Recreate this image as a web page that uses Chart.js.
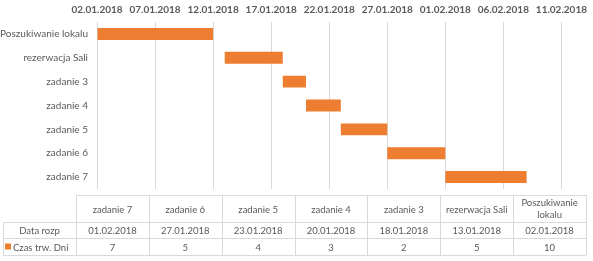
<!DOCTYPE html>
<html lang="pl">
  <head>
    <meta charset="UTF-8" />
    <script src="https://cdn.jsdelivr.net/npm/chart.js@4.4.1/dist/chart.umd.min.js"></script>
    <title>Harmonogram</title>
    <style>
      html, body { margin: 0; padding: 0; background: #fff; }
      #wrap { width: 593px; height: 261px; }
    </style>
  </head>
  <body>
    <div id="wrap"><canvas id="myChart" width="593" height="261"></canvas></div>

    <script>
      const categories = ["Poszukiwanie lokalu", "rezerwacja Sali", "zadanie 3", "zadanie 4", "zadanie 5", "zadanie 6", "zadanie 7"];
      const startDates = ["02.01.2018", "13.01.2018", "18.01.2018", "20.01.2018", "23.01.2018", "27.01.2018", "01.02.2018"];
      const durations = [10, 5, 2, 3, 4, 5, 7];
      const tickLabels = ["02.01.2018", "07.01.2018", "12.01.2018", "17.01.2018", "22.01.2018", "27.01.2018", "01.02.2018", "06.02.2018", "11.02.2018"];
      const rowLabels = ["Data rozp", "Czas trw. Dni"];

      const FONT = "Lato";
      const GREY = "#595959";
      const ORANGE = "#ED7D31";
      const LINE = "#D9D9D9";

      // days counted from the first tick label
      function dayIndex(s) {
        const [d, m, y] = s.split(".").map(Number);
        const [d0, m0, y0] = tickLabels[0].split(".").map(Number);
        return Math.round((Date.UTC(y, m - 1, d) - Date.UTC(y0, m0 - 1, d0)) / 86400000);
      }

      const bars = startDates.map((s, i) => [dayIndex(s), dayIndex(s) + durations[i]]);

      // excel style data table under the plot
      const tablePlugin = {
        id: "dataTable",
        afterDraw(chart) {
          const ctx = chart.ctx;
          const left = 76, right = 586, labelLeft = 3;
          const rows = [195, 222, 238, 255];
          const cols = categories.slice().reverse();
          const starts = startDates.slice().reverse();
          const durs = durations.slice().reverse();
          const w = (right - left) / cols.length;

          ctx.save();
          ctx.strokeStyle = LINE;
          ctx.lineWidth = 1;
          ctx.beginPath();
          // horizontal lines
          ctx.moveTo(left, rows[0] + 0.5); ctx.lineTo(right, rows[0] + 0.5);
          for (let r = 1; r < rows.length; r++) {
            ctx.moveTo(labelLeft, rows[r] + 0.5); ctx.lineTo(right, rows[r] + 0.5);
          }
          // vertical lines
          ctx.moveTo(labelLeft + 0.5, rows[1]); ctx.lineTo(labelLeft + 0.5, rows[3]);
          for (let c = 0; c <= cols.length; c++) {
            const x = Math.round(left + c * w) + 0.5;
            ctx.moveTo(x, rows[0]); ctx.lineTo(x, rows[3]);
          }
          ctx.stroke();

          ctx.fillStyle = GREY;
          ctx.font = "9.5px " + FONT;
          ctx.textAlign = "center";
          ctx.textBaseline = "middle";
          cols.forEach((name, i) => {
            const cx = left + (i + 0.5) * w;
            const tw = ctx.measureText(name).width;
            if (tw > w - 6) {
              const parts = name.split(" ");
              ctx.fillText(parts[0], cx, rows[0] + 8);
              ctx.fillText(parts.slice(1).join(" "), cx, rows[0] + 19.5);
            } else {
              ctx.fillText(name, cx, (rows[0] + rows[1]) / 2 + 1);
            }
            ctx.fillText(starts[i], cx, (rows[1] + rows[2]) / 2 + 1);
            ctx.fillText(String(durs[i]), cx, (rows[2] + rows[3]) / 2 + 1);
          });

          ctx.fillText(rowLabels[0], (labelLeft + left) / 2, (rows[1] + rows[2]) / 2 + 1);
          ctx.fillStyle = ORANGE;
          ctx.fillRect(labelLeft + 2, (rows[2] + rows[3]) / 2 - 3, 6, 6);
          ctx.fillStyle = GREY;
          ctx.textAlign = "left";
          ctx.fillText(rowLabels[1], labelLeft + 10, (rows[2] + rows[3]) / 2 + 1);
          ctx.restore();
        },
      };

      const ctx = document.getElementById("myChart").getContext("2d");
      const myChart = new Chart(ctx, {
        type: "bar",
        data: {
          labels: categories,
          datasets: [
            {
              label: "Czas trw. Dni",
              data: bars,
              backgroundColor: ORANGE,
              borderWidth: 0,
              borderSkipped: false,
              categoryPercentage: 1,
              barPercentage: 0.5,
            },
          ],
        },
        options: {
          indexAxis: "y",
          responsive: false,
          animation: false,
          layout: { padding: { top: 0, right: 31, bottom: 72, left: 0 } },
          plugins: { legend: { display: false }, tooltip: { enabled: false }, title: { display: false } },
          scales: {
            x: {
              type: "linear",
              position: "top",
              min: 0,
              max: (tickLabels.length - 1) * 5,
              grid: { color: LINE, drawTicks: false },
              border: { display: false },
              ticks: {
                stepSize: 5,
                padding: 6,
                maxRotation: 0,
                color: GREY,
                font: { family: FONT, size: 10, weight: "bold" },
                callback: (v, i) => tickLabels[i],
              },
              afterFit: (s) => { s.height = 22; },
            },
            y: {
              grid: { display: false, drawTicks: false },
              border: { display: false },
              ticks: {
                padding: 9,
                color: GREY,
                font: { family: FONT, size: 10 },
              },
              afterFit: (s) => { s.width = 97; },
            },
          },
        },
        plugins: [tablePlugin],
      });
    </script>
  </body>
</html>
